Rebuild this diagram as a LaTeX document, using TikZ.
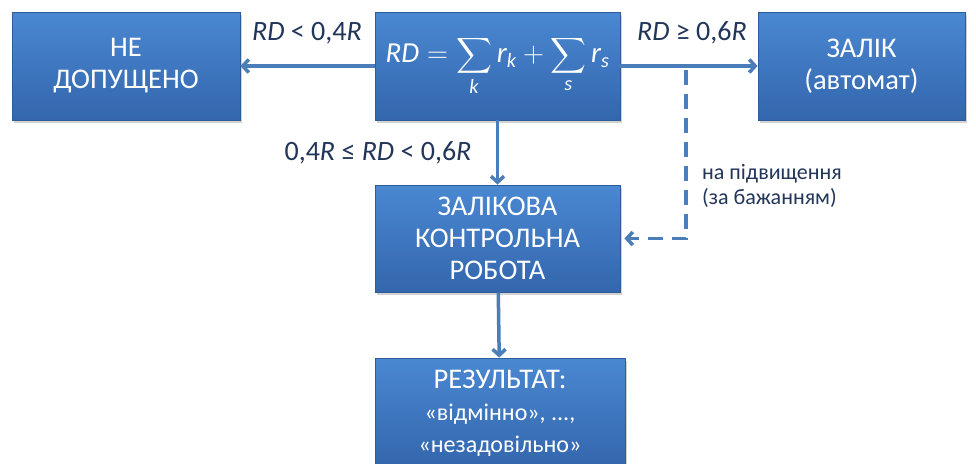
\documentclass[tikz,border=0pt]{standalone}
\usepackage{fix-cm}
\usepackage{amsmath}
\usepackage{fontspec}
\setmainfont{Carlito}
\usetikzlibrary{arrows.meta,shadows}
\definecolor{boxtop}{HTML}{4A88D2}
\definecolor{boxbot}{HTML}{3366AD}
\definecolor{boxedge}{HTML}{2D5C98}
\definecolor{linkblue}{HTML}{4A7DBA}
\definecolor{labtext}{HTML}{22365A}
\begin{document}
\begin{tikzpicture}[x=1pt,y=-1pt,
  block/.style={rectangle, draw=boxedge, line width=0.8pt, top color=boxtop, bottom color=boxbot,
    text=white, align=center, inner sep=2pt, minimum height=108pt,
    drop shadow={shadow xshift=2pt, shadow yshift=-3pt, opacity=0.35},
    font=\fontsize{28.5}{32}\selectfont},
  link/.style={draw=linkblue, line width=3.5pt, -{Straight Barb[length=6pt,width=13pt]}},
  dlink/.style={link, dash pattern=on 15pt off 9pt},
  lab/.style={text=labtext, font=\fontsize{28}{32}\selectfont},
  note/.style={text=labtext, align=left, inner sep=0pt, font=\fontsize{22}{25}\selectfont}]
\useasboundingbox (0,0) rectangle (976,463);
\fill[white] (0,0) rectangle (976,463);

% top row
\node[block, minimum width=228pt] (nedop) at (126,66) {НЕ\\ДОПУЩЕНО};
\node[block, minimum width=245pt, font=\fontsize{29}{32}\selectfont] (rd) at (497.5,66)
  {$\displaystyle\textit{RD}=\sum_{\textit{k}}\textit{r}_{\textit{k}}+\sum_{\textit{s}}\textit{r}_{\textit{s}}$};
\node[block, minimum width=207pt] (zalik) at (861.5,66) {ЗАЛІК\\(автомат)};

% middle and bottom
\node[block, minimum width=245pt, minimum height=107pt] (kr) at (497.5,238.5) {ЗАЛІКОВА\\КОНТРОЛЬНА\\РОБОТА};
\node[block, minimum width=250pt, minimum height=110pt] (res) at (500,413)
  {РЕЗУЛЬТАТ:\\{\fontsize{24}{30}\selectfont «відмінно», ...,}\\{\fontsize{24}{30}\selectfont «незадовільно»}};

\draw[link] (rd) -- (nedop);
\draw[link] (rd) -- (zalik);
\draw[link] (rd) -- (kr);
\draw[link] (kr) -- (res);

\coordinate (split) at (686,70);
\draw[dlink, shorten >=4pt] (split) |- (kr.east);

\node[lab] (lowlab) at (307,33) {\textit{RD} < 0,4\textit{R}};
\node[lab] (highlab) at (692,33) {\textit{RD} ≥ 0,6\textit{R}};
\node[lab] (midlab) at (378,153) {0,4\textit{R} ≤ \textit{RD} < 0,6\textit{R}};
\node[note, anchor=west] (uplab) at (702,186) {на підвищення\\(за бажанням)};
\end{tikzpicture}
\end{document}
